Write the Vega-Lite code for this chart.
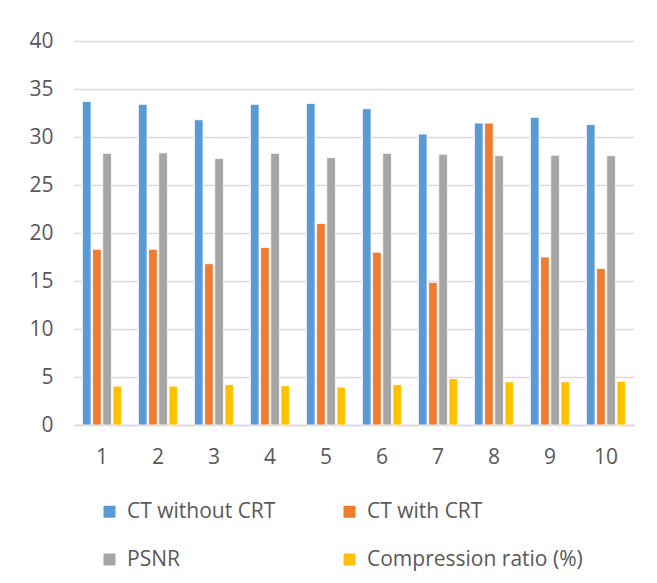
{
  "$schema": "https://vega.github.io/schema/vega-lite/v6.json",
  "width": 560,
  "height": 384,
  "autosize": {"type": "none"},
  "padding": {"left": 74, "top": 41, "right": 23, "bottom": 158},
  "background": "white",
  "config": {
    "font": "Open Sans",
    "view": {"stroke": null}
  },
  "data": {
    "values": [
      {"g": "1", "s": "CT without CRT", "v": 33.7},
      {"g": "1", "s": "CT with CRT", "v": 18.3},
      {"g": "1", "s": "PSNR", "v": 28.3},
      {"g": "1", "s": "Compression ratio (%)", "v": 4.05},
      {"g": "2", "s": "CT without CRT", "v": 33.4},
      {"g": "2", "s": "CT with CRT", "v": 18.3},
      {"g": "2", "s": "PSNR", "v": 28.35},
      {"g": "2", "s": "Compression ratio (%)", "v": 4.05},
      {"g": "3", "s": "CT without CRT", "v": 31.8},
      {"g": "3", "s": "CT with CRT", "v": 16.8},
      {"g": "3", "s": "PSNR", "v": 27.75},
      {"g": "3", "s": "Compression ratio (%)", "v": 4.2},
      {"g": "4", "s": "CT without CRT", "v": 33.4},
      {"g": "4", "s": "CT with CRT", "v": 18.5},
      {"g": "4", "s": "PSNR", "v": 28.3},
      {"g": "4", "s": "Compression ratio (%)", "v": 4.1},
      {"g": "5", "s": "CT without CRT", "v": 33.5},
      {"g": "5", "s": "CT with CRT", "v": 21.0},
      {"g": "5", "s": "PSNR", "v": 27.85},
      {"g": "5", "s": "Compression ratio (%)", "v": 3.95},
      {"g": "6", "s": "CT without CRT", "v": 32.95},
      {"g": "6", "s": "CT with CRT", "v": 18.0},
      {"g": "6", "s": "PSNR", "v": 28.3},
      {"g": "6", "s": "Compression ratio (%)", "v": 4.2},
      {"g": "7", "s": "CT without CRT", "v": 30.3},
      {"g": "7", "s": "CT with CRT", "v": 14.85},
      {"g": "7", "s": "PSNR", "v": 28.2},
      {"g": "7", "s": "Compression ratio (%)", "v": 4.85},
      {"g": "8", "s": "CT without CRT", "v": 31.45},
      {"g": "8", "s": "CT with CRT", "v": 31.45},
      {"g": "8", "s": "PSNR", "v": 28.05},
      {"g": "8", "s": "Compression ratio (%)", "v": 4.5},
      {"g": "9", "s": "CT without CRT", "v": 32.05},
      {"g": "9", "s": "CT with CRT", "v": 17.5},
      {"g": "9", "s": "PSNR", "v": 28.1},
      {"g": "9", "s": "Compression ratio (%)", "v": 4.5},
      {"g": "10", "s": "CT without CRT", "v": 31.3},
      {"g": "10", "s": "CT with CRT", "v": 16.3},
      {"g": "10", "s": "PSNR", "v": 28.05},
      {"g": "10", "s": "Compression ratio (%)", "v": 4.55}
    ]
  },
  "mark": {"type": "bar", "stroke": "white", "strokeWidth": 0.8},
  "encoding": {
    "x": {
      "field": "g",
      "type": "ordinal",
      "sort": null,
      "scale": {"paddingInner": 0.3, "paddingOuter": 0.15},
      "axis": {
        "title": null,
        "labelAngle": 0,
        "labelFontSize": 21,
        "labelColor": "#595959",
        "labelPadding": 21,
        "ticks": false,
        "domainColor": "#d9d9d9",
        "domainWidth": 1.5
      }
    },
    "xOffset": {
      "field": "s",
      "type": "nominal",
      "sort": ["CT without CRT", "CT with CRT", "PSNR", "Compression ratio (%)"],
      "scale": {"paddingInner": 0.15}
    },
    "y": {
      "field": "v",
      "type": "quantitative",
      "scale": {"domain": [0, 40]},
      "axis": {
        "title": null,
        "values": [0, 5, 10, 15, 20, 25, 30, 35, 40],
        "labelFontSize": 21,
        "labelColor": "#595959",
        "labelPadding": 21,
        "ticks": false,
        "domain": false,
        "gridColor": "#d9d9d9",
        "gridWidth": 1.5
      }
    },
    "color": {
      "field": "s",
      "type": "nominal",
      "sort": ["CT without CRT", "CT with CRT", "PSNR", "Compression ratio (%)"],
      "scale": {
        "domain": ["CT without CRT", "CT with CRT", "PSNR", "Compression ratio (%)"],
        "range": ["#5B9BD5", "#ED7D31", "#A5A5A5", "#FFC000"]
      },
      "legend": {
        "title": null,
        "orient": "none",
        "legendX": 25,
        "legendY": 460,
        "columns": 2,
        "direction": "horizontal",
        "columnPadding": 63,
        "rowPadding": 26,
        "symbolType": "square",
        "symbolSize": 144,
        "symbolStrokeWidth": 0,
        "labelFontSize": 21,
        "labelColor": "#595959",
        "labelOffset": 7,
        "labelLimit": 400
      }
    }
  }
}
